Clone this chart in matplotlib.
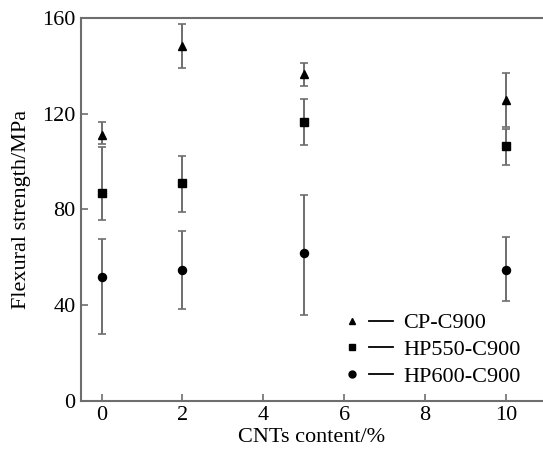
import numpy as np
import matplotlib
matplotlib.use("Agg")
import matplotlib.pyplot as plt
from matplotlib.lines import Line2D
from matplotlib.legend_handler import HandlerTuple

plt.rcParams['font.family'] = ['Liberation Serif', 'DejaVu Serif']
plt.rcParams['font.size'] = 16

cnt_content = [0, 2, 5, 10]

# mean values and error bar ends (lower cap, upper cap), MPa
cp_mean = [111, 148.4, 136.5, 125.8]
cp_low = [107.3, 138.9, 131.7, 114.5]
cp_high = [116.3, 157.5, 141.1, 137.2]

hp550_mean = [87, 91.1, 116.6, 106.5]
hp550_low = [75.6, 79.0, 106.7, 98.4]
hp550_high = [106.2, 102.4, 126.2, 113.4]

hp600_mean = [51.8, 54.6, 61.5, 54.5]
hp600_low = [28.0, 38.3, 35.6, 41.5]
hp600_high = [67.6, 71.1, 86.0, 68.2]

series = [
    ("CP-C900", cp_mean, cp_low, cp_high, "^"),
    ("HP550-C900", hp550_mean, hp550_low, hp550_high, "s"),
    ("HP600-C900", hp600_mean, hp600_low, hp600_high, "o"),
]

grey = "#6e6e6e"

fig = plt.figure(figsize=(5.43, 4.57), dpi=100)
ax = fig.add_axes([81 / 543, 56.5 / 457, 1 - 81 / 543, (400.5 - 18) / 457])

handles = []
labels = []
for name, mean, low, high, mk in series:
    mean = np.array(mean)
    yerr = [mean - np.array(low), np.array(high) - mean]
    ax.errorbar(cnt_content, mean, yerr=yerr, fmt="none", ecolor=grey,
                elinewidth=1.4, capsize=3.2, capthick=1.2, zorder=2)
    ax.plot(cnt_content, mean, linestyle="none", marker=mk, color="black",
            markersize=5.8 if mk != "s" else 5.3, zorder=3)
    m = Line2D([], [], linestyle="none", marker=mk, color="black", markersize=5)
    ln = Line2D([], [], color="black", linewidth=1.3)
    handles.append((m, ln))
    labels.append(name)

ax.set_xlim(-0.51, 10.92)
ax.set_ylim(0, 160)
ax.set_xticks([0, 2, 4, 6, 8, 10])
ax.set_yticks([0, 40, 80, 120, 160])
ax.tick_params(direction="in", length=5, width=1.2, color=grey, pad=4)
for s in ["left", "bottom", "top"]:
    ax.spines[s].set_color(grey)
    ax.spines[s].set_linewidth(1.5)
ax.spines["right"].set_visible(False)

ax.set_xlabel("CNTs content/%", labelpad=2)
ax.set_ylabel("Flexural strength/MPa", labelpad=8)

ax.legend(handles, labels, handler_map={tuple: HandlerTuple(ndivide=None, pad=0.25)},
          loc="lower right", bbox_to_anchor=(0.985, -0.005), frameon=False,
          handlelength=2.4, handletextpad=0.45, labelspacing=0.28, borderpad=0.2)

fig.savefig("out.png", dpi=100)
